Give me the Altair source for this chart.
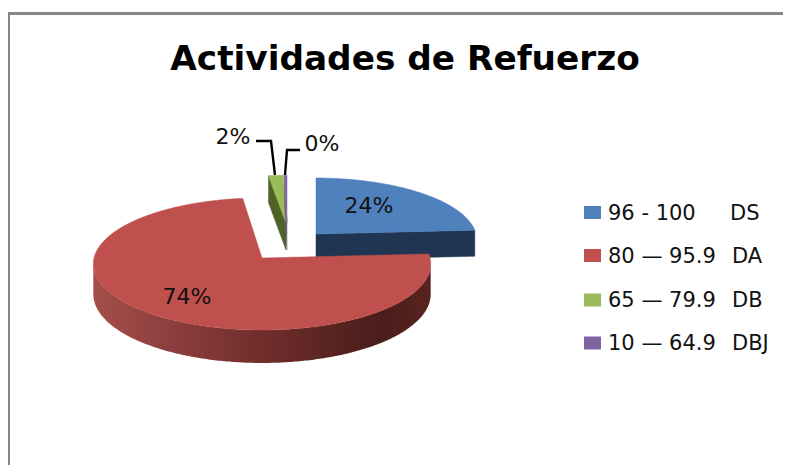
import math
import altair as alt
import pandas as pd

# ---- chart values ----
title_text = ["Actividades de Refuerzo"]
categories = ["96 - 100", "80 — 95.9", "65 — 79.9", "10 — 64.9"]
grades = ["DS", "DA", "DB", "DBJ"]
values = [24, 74, 1.7, 0.3]
pct_labels = ["24%", "74%", "2%", "0%"]
colors = ["#4F81BD", "#C0504D", "#9BBB59", "#8064A2"]
cut_colors = ["#1F3552", "#4F2320", "#4F6228", "#6B6478"]

# ---- pseudo-3D layout of each exploded slice (centre, radii, thickness) ----
centre_x = [316, 262, 286, 287]
centre_y = [234, 258, 223, 223]
radius_a = [160, 168, 152, 152]
radius_b = [61, 65.5, 52, 52]
depth = [26, 30, 27, 27]
persp = 0.09
W, H = 775, 457

X = alt.X("x:Q", scale=alt.Scale(domain=[8, 783], nice=False, zero=False), axis=None)
Y = alt.Y("y:Q", scale=alt.Scale(domain=[8, 465], nice=False, zero=False, reverse=True), axis=None)


def rim(i, deg):
    t = math.radians(deg)
    u, v = math.sin(t), math.cos(t)
    w = 1 + persp * v
    return centre_x[i] + radius_a[i] * u / w, centre_y[i] - radius_b[i] * v / w, w


def polygon(points, fill):
    df = pd.DataFrame({"x": [p[0] for p in points], "y": [p[1] for p in points], "o": range(len(points))})
    return alt.Chart(df).mark_line(fill=fill, stroke=fill, strokeWidth=0.5, interpolate="linear").encode(
        x=X, y=Y, order="o:Q"
    )


total = sum(values)
spans = []
acc = 0.0
for v in values:
    spans.append((acc / total * 360, (acc + v) / total * 360))
    acc += v


def top_face(i):
    a0, a1 = spans[i]
    n = max(4, int((a1 - a0) * 2))
    pts = [(centre_x[i], centre_y[i])]
    pts += [rim(i, a0 + (a1 - a0) * k / n)[:2] for k in range(n + 1)]
    pts.append((centre_x[i], centre_y[i]))
    return polygon(pts, colors[i])


def cut_face(i, deg):
    x, y, _ = rim(i, deg)
    cx, cy = centre_x[i], centre_y[i]
    d = depth[i]
    return polygon([(x, y), (cx, cy), (cx, cy + d), (x, y + d), (x, y)], cut_colors[i])


def red_side():
    a0, a1 = spans[1]
    rows = []
    for k in range(0, 401):
        deg = a0 + (a1 - a0) * k / 400
        x, y, w = rim(1, deg)
        rows.append((x, y, y + depth[1] / w))
    i_max = max(range(len(rows)), key=lambda k: rows[k][0])
    i_min = min(range(len(rows)), key=lambda k: rows[k][0])
    rows = rows[i_max:i_min + 1]
    df = pd.DataFrame(rows, columns=["x", "y", "y2"])
    return alt.Chart(df).mark_area(
        color=alt.Gradient(
            gradient="linear", x1=0, x2=1, y1=0, y2=0,
            stops=[
                alt.GradientStop(color="#A54E4A", offset=0),
                alt.GradientStop(color="#85393A", offset=0.3),
                alt.GradientStop(color="#6A2B29", offset=0.55),
                alt.GradientStop(color="#4A1D1B", offset=0.85),
                alt.GradientStop(color="#58231F", offset=1),
            ],
        )
    ).encode(x=X, y=Y, y2="y2:Q")


def box(x0, x1, y0, y1, fill):
    df = pd.DataFrame({"x": [x0], "x2": [x1], "y": [y0], "y2": [y1]})
    return alt.Chart(df).mark_rect(color=fill).encode(x=X, x2="x2:Q", y=Y, y2="y2:Q")


def label(texts, xs, ys, size, align="center", weight="normal", color="#111111"):
    df = pd.DataFrame({"t": texts, "x": xs, "y": ys})
    return alt.Chart(df).mark_text(
        font="DejaVu Sans", fontSize=size, fontWeight=weight, align=align, baseline="middle", color=color
    ).encode(x=X, y=Y, text="t:N")


def leader(xs, ys):
    df = pd.DataFrame({"x": xs, "y": ys, "o": range(len(xs))})
    return alt.Chart(df).mark_line(color="#000000", strokeWidth=2.4).encode(x=X, y=Y, order="o:Q")


layers = [
    box(8, 783, 12, 15, "#868686"),
    box(8, 10, 12, 465, "#868686"),
    cut_face(0, spans[0][1]),
    top_face(0),
    cut_face(2, spans[2][0]),
    top_face(2),
    cut_face(3, spans[3][0]),
    top_face(3),
    red_side(),
    top_face(1),
    leader([256, 271, 275], [141, 141, 175]),
    leader([300, 287, 285], [150, 150, 175]),
    label(title_text, [405], [60], 34.3, weight="bold", color="#000000"),
    label(pct_labels, [369, 187, 233, 322], [206, 297, 137, 144], 22),
]

legend_y = [212.5, 255.5, 300, 343]
text_y = [213.5, 256.5, 301, 344]
for i, y in enumerate(legend_y):
    layers.append(box(584, 601, y - 6.5, y + 6.5, colors[i]))
layers.append(label(categories, [608] * 4, text_y, 21, align="left"))
layers.append(label(grades, [730, 732, 732, 732], text_y, 21, align="left"))

chart = (
    alt.layer(*layers)
    .properties(width=W, height=H, padding=0, autosize=alt.AutoSizeParams(type="none"))
    .configure_view(stroke=None)
)
chart.save("out.html", embed_options={"renderer": "svg", "actions": False})
